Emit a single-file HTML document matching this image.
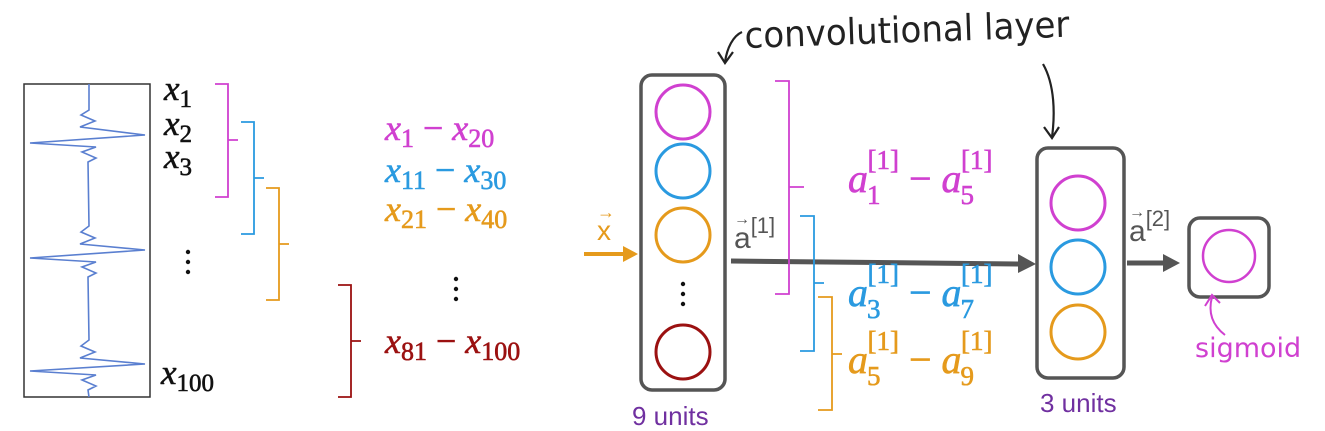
<!DOCTYPE html>
<html><head><meta charset="utf-8"><style>
html,body{margin:0;padding:0;background:#fff;width:1325px;height:431px;overflow:hidden}
svg{display:block}
.m{font-family:"Liberation Serif",serif;font-style:italic}
.s{font-family:"Liberation Sans",sans-serif}
</style></head><body>
<svg width="1325" height="431" viewBox="0 0 1325 431">
<rect x="24" y="84" width="126" height="313" fill="#fff" stroke="#333" stroke-width="1.5"/>
<polyline fill="none" stroke="#5a7fd0" stroke-width="1.6" points="89,84 89,110 81,115 95,121 80,127 145,135 30,143 96,147 82,152 96,158 88,162 89,226 81,232 95,238 80,244 145,250 30,258 96,262 82,267 96,273 88,277 89,340 81,346 95,352 80,358 145,364 30,371 96,375 82,380 96,386 88,390 89,397"/>
<g class="m" font-size="35" fill="#111" stroke="#111" stroke-width="0.6">
<text x="164" y="100">x<tspan font-style="normal" font-size="25" dy="7">1</tspan></text>
<text x="164" y="135">x<tspan font-style="normal" font-size="25" dy="7">2</tspan></text>
<text x="164" y="168">x<tspan font-style="normal" font-size="25" dy="7">3</tspan></text>
<text x="161" y="384">x<tspan font-style="normal" font-size="25" dy="7">100</tspan></text>
</g>
<g fill="#111"><circle cx="188" cy="252" r="2.2"/><circle cx="188" cy="262" r="2.2"/><circle cx="188" cy="272" r="2.2"/></g>
<g fill="none" stroke-width="1.8">
<path d="M215,84 h13 v56 h10 m-10,0 v57 h-13" stroke="#d040d0"/>
<path d="M241,122 h13 v56 h10 m-10,0 v56 h-13" stroke="#2a9ae0"/>
<path d="M266,188 h13 v56 h10 m-10,0 v56 h-13" stroke="#e59a1c"/>
<path d="M338,285 h13 v56 h10 m-10,0 v56 h-13" stroke="#9b1111"/>
</g>
<g class="m" font-size="36" stroke-width="0.6">
<text x="385" y="140" fill="#d040d0" stroke="#d040d0">x<tspan font-style="normal" font-size="26" dy="7">1</tspan><tspan dy="-7" font-style="normal"> − </tspan>x<tspan font-style="normal" font-size="26" dy="7">20</tspan></text>
<text x="385" y="182" fill="#2a9ae0" stroke="#2a9ae0">x<tspan font-style="normal" font-size="26" dy="7">11</tspan><tspan dy="-7" font-style="normal"> − </tspan>x<tspan font-style="normal" font-size="26" dy="7">30</tspan></text>
<text x="385" y="221" fill="#e59a1c" stroke="#e59a1c">x<tspan font-style="normal" font-size="26" dy="7">21</tspan><tspan dy="-7" font-style="normal"> − </tspan>x<tspan font-style="normal" font-size="26" dy="7">40</tspan></text>
<text x="385" y="353" fill="#9b1111" stroke="#9b1111">x<tspan font-style="normal" font-size="26" dy="7">81</tspan><tspan dy="-7" font-style="normal"> − </tspan>x<tspan font-style="normal" font-size="26" dy="7">100</tspan></text>
</g>
<g fill="#111"><circle cx="456" cy="279" r="2.2"/><circle cx="456" cy="289" r="2.2"/><circle cx="456" cy="299" r="2.2"/></g>
<text x="597" y="240" class="s" font-size="28" fill="#e59a1c">x</text>
<text x="597" y="218" class="s" font-size="18" fill="#e59a1c">→</text>
<line x1="584" y1="254" x2="625" y2="254" stroke="#e59a1c" stroke-width="4"/>
<polygon points="623,246 638,254 623,262" fill="#e59a1c"/>
<rect x="641" y="75" width="84" height="315" rx="11" fill="none" stroke="#555" stroke-width="3.5"/>
<g fill="none" stroke-width="3">
<circle cx="683" cy="112" r="27" stroke="#d040d0"/>
<circle cx="683" cy="171" r="27" stroke="#2a9ae0"/>
<circle cx="683" cy="235" r="27" stroke="#e59a1c"/>
<circle cx="683" cy="352" r="27" stroke="#9b1111"/>
</g>
<g fill="#111"><circle cx="683" cy="284" r="2.2"/><circle cx="683" cy="294" r="2.2"/><circle cx="683" cy="304" r="2.2"/></g>
<text x="632" y="425" class="s" font-size="26" fill="#7030a0">9 units</text>
<line x1="731" y1="261" x2="1022" y2="264" stroke="#555" stroke-width="5"/>
<polygon points="1018,254 1036,264 1018,273" fill="#555"/>
<text x="734" y="248" class="s" font-size="30" fill="#555">a<tspan font-size="22" dy="-15">[1]</tspan></text>
<text x="734" y="224" class="s" font-size="16" fill="#555">→</text>
<g fill="none" stroke-width="1.8">
<path d="M775,81 h14 v106 h15 m-15,0 v107 h-14" stroke="#d040d0"/>
<path d="M800,216 h14 v67 h10 m-10,0 v68 h-14" stroke="#2a9ae0"/>
<path d="M818,297 h14 v57 h10 m-10,0 v56 h-14" stroke="#e59a1c"/>
</g>
<g class="m" font-size="40" stroke-width="0.6">
<text x="848" y="192" fill="#d040d0" stroke="#d040d0">a<tspan font-style="normal" font-size="27" dx="-1" dy="12">1</tspan><tspan font-style="normal" font-size="27" dx="-13" dy="-35">[1]</tspan><tspan font-style="normal" dy="23"> − </tspan>a<tspan font-style="normal" font-size="27" dx="-1" dy="12">5</tspan><tspan font-style="normal" font-size="27" dx="-13" dy="-35">[1]</tspan></text>
<text x="848" y="306" fill="#2a9ae0" stroke="#2a9ae0">a<tspan font-style="normal" font-size="27" dx="-1" dy="12">3</tspan><tspan font-style="normal" font-size="27" dx="-13" dy="-35">[1]</tspan><tspan font-style="normal" dy="23"> − </tspan>a<tspan font-style="normal" font-size="27" dx="-1" dy="12">7</tspan><tspan font-style="normal" font-size="27" dx="-13" dy="-35">[1]</tspan></text>
<text x="848" y="373" fill="#e59a1c" stroke="#e59a1c">a<tspan font-style="normal" font-size="27" dx="-1" dy="12">5</tspan><tspan font-style="normal" font-size="27" dx="-13" dy="-35">[1]</tspan><tspan font-style="normal" dy="23"> − </tspan>a<tspan font-style="normal" font-size="27" dx="-1" dy="12">9</tspan><tspan font-style="normal" font-size="27" dx="-13" dy="-35">[1]</tspan></text>
</g>
<rect x="1037" y="148" width="87" height="230" rx="11" fill="none" stroke="#555" stroke-width="3.5"/>
<g fill="none" stroke-width="3">
<circle cx="1078" cy="203" r="27" stroke="#d040d0"/>
<circle cx="1078" cy="267" r="27" stroke="#2a9ae0"/>
<circle cx="1078" cy="332" r="27" stroke="#e59a1c"/>
</g>
<text x="1040" y="412" class="s" font-size="26" fill="#7030a0">3 units</text>
<line x1="1127" y1="263" x2="1165" y2="263" stroke="#555" stroke-width="5"/>
<polygon points="1163,254 1180,263 1163,272" fill="#555"/>
<text x="1129" y="241" class="s" font-size="30" fill="#555">a<tspan font-size="22" dy="-15">[2]</tspan></text>
<text x="1129" y="217" class="s" font-size="16" fill="#555">→</text>
<rect x="1189" y="218" width="80" height="79" rx="11" fill="none" stroke="#555" stroke-width="3.5"/>
<circle cx="1229" cy="256" r="26" fill="none" stroke="#d040d0" stroke-width="2.5"/>
<text x="745" y="48" font-family="'DejaVu Sans',sans-serif" font-size="36" fill="#222" textLength="325" lengthAdjust="spacingAndGlyphs" transform="rotate(-2 745 48)">convolutional layer</text>
<path d="M742,32 C733,36 727,48 725,62" fill="none" stroke="#222" stroke-width="2.2"/>
<path d="M718,52 L725,63 L733,52" fill="none" stroke="#222" stroke-width="2.2"/>
<path d="M1043,64 C1055,85 1055,115 1052,137" fill="none" stroke="#222" stroke-width="2.2"/>
<path d="M1044,127 L1052,138 L1059,127" fill="none" stroke="#222" stroke-width="2.2"/>
<text x="1195" y="357" font-family="'DejaVu Sans',sans-serif" font-size="27" fill="#d040d0">sigmoid</text>
<path d="M1225,335 C1212,325 1208,312 1212,297" fill="none" stroke="#d040d0" stroke-width="2"/>
<path d="M1205,306 L1212,295 L1220,303" fill="none" stroke="#d040d0" stroke-width="2"/>
</svg>
</body></html>
